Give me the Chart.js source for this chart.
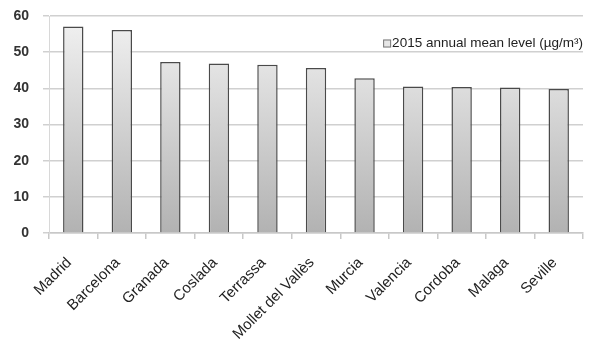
<!DOCTYPE html>
<html>
<head>
<meta charset="utf-8">
<script src="https://cdn.jsdelivr.net/npm/chart.js@4"></script>
<style>
    html, body { margin: 0; padding: 0; background: #fff; }
    #wrap { width: 601px; height: 346px; }
</style>
</head>
<body>
<div id="wrap"><canvas id="no2Chart" width="601" height="346"></canvas></div>
<script>
    // cities and their 2015 annual mean NO2 level
    const cities = ['Madrid', 'Barcelona', 'Granada', 'Coslada', 'Terrassa', 'Mollet del Vallès',
        'Murcia', 'Valencia', 'Cordoba', 'Malaga', 'Seville'];
    const meanLevels = [57.1, 56.1, 47.3, 46.9, 46.5, 45.6, 42.8, 40.5, 40.4, 40.2, 39.8];
    const seriesLabel = '2015 annual mean level (\u00b5g/m\u00b3)';
    const fontFamily = 'Liberation Sans, Arial, sans-serif';

    function barGradient(context) {
        const chart = context.chart;
        const area = chart.chartArea;
        if (!area) return '#d8d8d8';
        const g = chart.ctx.createLinearGradient(0, area.top, 0, area.bottom);
        g.addColorStop(0, '#f2f2f2');
        g.addColorStop(1, '#b2b2b2');
        return g;
    }

    // legend drawn inside the plot, top right corner
    const insideLegend = {
        id: 'insideLegend',
        afterDraw: function(chart) {
            const c = chart.ctx;
            const area = chart.chartArea;
            c.save();
            c.font = '13.5px ' + fontFamily;
            c.textAlign = 'right';
            c.textBaseline = 'middle';
            c.fillStyle = '#222';
            const y = area.top + 27.5;
            const right = area.right;
            c.fillText(seriesLabel, right, y);
            const w = c.measureText(seriesLabel).width;
            const bx = right - w - 9;
            c.fillStyle = '#e6e6e6';
            c.fillRect(bx, y - 4, 8, 8);
            c.strokeStyle = '#777';
            c.lineWidth = 1;
            c.strokeRect(bx + 0.5, y - 3.5, 7, 7);
            c.restore();
        }
    };

    var ctx = document.getElementById('no2Chart').getContext('2d');
    var no2Chart = new Chart(ctx, {
        type: 'bar',
        data: {
            labels: cities,
            datasets: [{
                label: seriesLabel,
                data: meanLevels,
                backgroundColor: barGradient,
                borderColor: '#4a4a4a',
                borderWidth: 1.5,
                borderSkipped: 'bottom',
                barPercentage: 0.42,
                categoryPercentage: 1
            }]
        },
        options: {
            responsive: false,
            animation: false,
            layout: { padding: { left: 0, top: 16, right: 18, bottom: 0 } },
            scales: {
                x: {
                    grid: { offset: true, drawOnChartArea: false, tickLength: 6, color: '#c8c8c8', lineWidth: 1.5 },
                    border: { color: '#c8c8c8', width: 1.5 },
                    ticks: {
                        minRotation: 45,
                        maxRotation: 45,
                        padding: 15,
                        labelOffset: -4,
                        color: '#222',
                        font: { family: fontFamily, size: 15 }
                    },
                    afterFit: function(axis) { axis.height = 113; }
                },
                y: {
                    min: 0,
                    max: 60,
                    grid: { color: '#d0d0d0', lineWidth: 1.5, tickLength: 6 },
                    border: { color: '#d8d8d8', width: 1 },
                    ticks: {
                        stepSize: 10,
                        padding: 14,
                        color: '#333',
                        font: { family: fontFamily, size: 14, weight: 'bold' }
                    },
                    afterFit: function(axis) {
                        axis.width = 49;
                        // tick padding otherwise pushes the plot top down
                        axis.paddingTop = 0;
                        axis.paddingBottom = 0;
                    }
                }
            },
            plugins: {
                legend: { display: false },
                tooltip: { enabled: false }
            }
        },
        plugins: [insideLegend]
    });
</script>
</body>
</html>
